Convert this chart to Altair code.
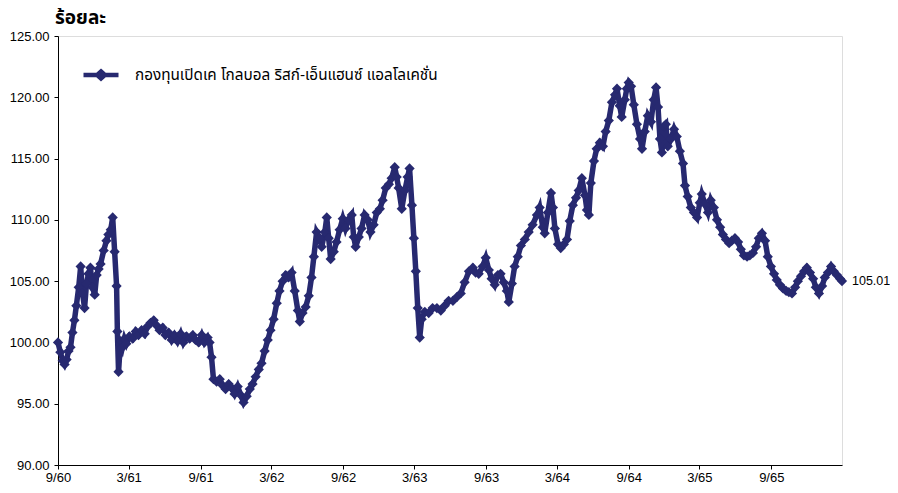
import altair as alt
import pandas as pd

SERIES_NAME = "กองทุนเปิดเค โกลบอล ริสก์-เอ็นแฮนซ์ แอลโลเคชั่น"
Y_TITLE = "ร้อยละ"

DATES = [
    "2017-09-01", "2017-09-07", "2017-09-13", "2017-09-18", "2017-09-23", "2017-09-28",
    "2017-10-03", "2017-10-08", "2017-10-13", "2017-10-18", "2017-10-24", "2017-10-29",
    "2017-11-03", "2017-11-08", "2017-11-13", "2017-11-18", "2017-11-23", "2017-11-28",
    "2017-12-04", "2017-12-09", "2017-12-14", "2017-12-19", "2017-12-27",
    "2018-01-03", "2018-01-08", "2018-01-14", "2018-01-19", "2018-01-24", "2018-01-29", "2018-01-31",
    "2018-02-03", "2018-02-08", "2018-02-13", "2018-02-18", "2018-02-23",
    "2018-03-03", "2018-03-11", "2018-03-19", "2018-03-26",
    "2018-04-03", "2018-04-11", "2018-04-18", "2018-04-26",
    "2018-05-04", "2018-05-11", "2018-05-19", "2018-05-27",
    "2018-06-03", "2018-06-11", "2018-06-19", "2018-06-26",
    "2018-07-04", "2018-07-12", "2018-07-19", "2018-07-27",
    "2018-08-04", "2018-08-12", "2018-08-19", "2018-08-27",
    "2018-09-04", "2018-09-11", "2018-09-19", "2018-09-24", "2018-09-29",
    "2018-10-04", "2018-10-12", "2018-10-20", "2018-10-27",
    "2018-11-04", "2018-11-12", "2018-11-19", "2018-11-27",
    "2018-12-05", "2018-12-13", "2018-12-20", "2018-12-28",
    "2019-01-05", "2019-01-12", "2019-01-20", "2019-01-28",
    "2019-02-04", "2019-02-12", "2019-02-20", "2019-02-27",
    "2019-03-07", "2019-03-15", "2019-03-22", "2019-03-30",
    "2019-04-07", "2019-04-14", "2019-04-22", "2019-04-30",
    "2019-05-08", "2019-05-13", "2019-05-20", "2019-05-28",
    "2019-06-05", "2019-06-12", "2019-06-18", "2019-06-25",
    "2019-07-03", "2019-07-08", "2019-07-16", "2019-07-21", "2019-07-26", "2019-07-31",
    "2019-08-08", "2019-08-15", "2019-08-23", "2019-08-31",
    "2019-09-07", "2019-09-15", "2019-09-23", "2019-09-28",
    "2019-10-03", "2019-10-11", "2019-10-18", "2019-10-26",
    "2019-11-03", "2019-11-10", "2019-11-18", "2019-11-26",
    "2019-12-04", "2019-12-11", "2019-12-19", "2019-12-27",
    "2020-01-03", "2020-01-11", "2020-01-16", "2020-01-21", "2020-01-29",
    "2020-02-06", "2020-02-13", "2020-02-18", "2020-02-24", "2020-02-29",
    "2020-03-05", "2020-03-10", "2020-03-15", "2020-03-20", "2020-03-28",
    "2020-04-07", "2020-04-17", "2020-04-28",
    "2020-05-08", "2020-05-18", "2020-05-28",
    "2020-06-08", "2020-06-18", "2020-06-28",
    "2020-07-08", "2020-07-19", "2020-07-29",
    "2020-08-05", "2020-08-13", "2020-08-23", "2020-08-31",
    "2020-09-08", "2020-09-15", "2020-09-23",
    "2020-10-01", "2020-10-08", "2020-10-16", "2020-10-24", "2020-10-29",
    "2020-11-06", "2020-11-13", "2020-11-21", "2020-11-29",
    "2020-12-09", "2020-12-19", "2020-12-29",
    "2021-01-09", "2021-01-16", "2021-01-24", "2021-01-29",
    "2021-02-06", "2021-02-14", "2021-02-19", "2021-02-24",
    "2021-03-04", "2021-03-11", "2021-03-19", "2021-03-27",
    "2021-04-03", "2021-04-11", "2021-04-19", "2021-04-26",
    "2021-05-04", "2021-05-12", "2021-05-17", "2021-05-22", "2021-05-27",
    "2021-06-04", "2021-06-11", "2021-06-19", "2021-06-27",
    "2021-07-04", "2021-07-12", "2021-07-20", "2021-07-28",
    "2021-08-02", "2021-08-09", "2021-08-14", "2021-08-22", "2021-08-27",
    "2021-09-01", "2021-09-07", "2021-09-14", "2021-09-22", "2021-09-30",
    "2021-10-05", "2021-10-12", "2021-10-20", "2021-10-28",
    "2021-11-04", "2021-11-10", "2021-11-15", "2021-11-20", "2021-11-25", "2021-11-30",
    "2021-12-05", "2021-12-10", "2021-12-18", "2021-12-26",
    "2022-01-02", "2022-01-10", "2022-01-18", "2022-01-23", "2022-01-30",
    "2022-02-07", "2022-02-15", "2022-02-23",
    "2022-03-02", "2022-03-07", "2022-03-15", "2022-03-23", "2022-03-30",
    "2022-04-07", "2022-04-15", "2022-04-23", "2022-04-30",
    "2022-05-08", "2022-05-16", "2022-05-23", "2022-05-31",
    "2022-06-08", "2022-06-15", "2022-06-23",
    "2022-07-01", "2022-07-08", "2022-07-16", "2022-07-24", "2022-07-31",
    "2022-08-08", "2022-08-16", "2022-08-23", "2022-08-31",
    "2022-09-08", "2022-09-15", "2022-09-23",
    "2022-10-01", "2022-10-09", "2022-10-16", "2022-10-24",
    "2022-11-01", "2022-11-08", "2022-11-16", "2022-11-24",
    "2022-12-01", "2022-12-09", "2022-12-17", "2022-12-24",
    "2023-01-01", "2023-01-09", "2023-01-16", "2023-01-24",
    "2023-02-01", "2023-02-08", "2023-02-16", "2023-02-24",
    "2023-03-01",
]

NAV = [
    100.0, 99.2, 98.5, 98.2, 98.6, 99.3,
    99.6, 100.8, 101.8, 103.0, 104.5, 106.2,
    104.0, 102.8, 104.8, 105.6, 106.1, 104.5,
    103.9, 105.5, 106.0, 106.4, 107.5,
    108.3, 108.8, 109.2, 110.2, 107.4, 104.6, 100.9,
    97.6, 100.1, 99.6, 100.3, 99.9,
    100.5, 100.3, 100.9, 100.6,
    101.0, 100.7, 101.3, 101.6,
    101.8, 101.4, 101.0, 101.2,
    100.6, 100.8, 100.2, 100.6,
    100.1, 100.7, 100.0, 100.5,
    100.3, 100.6, 100.2, 100.0,
    100.6, 100.0, 100.4, 100.0, 98.8,
    97.0, 96.8, 97.0, 96.5,
    96.2, 96.6, 96.3, 95.8,
    96.4, 95.7, 95.1, 95.6,
    96.2, 96.6, 97.2, 97.8,
    98.3, 99.3, 100.2, 101.0,
    101.9, 103.2, 104.2, 105.0,
    105.5, 105.3, 105.7, 104.2,
    102.6, 101.7, 102.4, 102.9,
    103.8, 105.3, 107.0, 109.0,
    108.5, 107.8, 109.0, 110.2, 108.5, 106.8,
    107.4, 108.2, 109.2, 110.1,
    109.3, 110.0, 110.4, 108.6,
    107.8, 108.6, 109.3, 110.4,
    110.0, 109.0, 109.6, 110.6,
    110.9, 111.6, 112.6, 112.9,
    113.4, 114.3, 113.5, 112.6, 110.9,
    112.4, 113.5, 114.2, 111.2, 108.5,
    105.8, 102.8, 100.4, 101.9, 102.5,
    102.4, 102.8, 102.8,
    102.6, 103.0, 103.4,
    103.4, 103.7, 104.0,
    104.9, 105.8, 106.1,
    105.7, 105.6, 106.2, 106.9,
    105.9, 105.2, 104.7,
    105.5, 105.6, 104.9, 104.2, 103.3,
    104.8, 106.2, 107.0, 107.9,
    108.4, 109.0, 109.6,
    110.4, 111.0, 109.4, 108.9,
    110.6, 112.2, 111.0, 109.3,
    108.0, 107.7, 108.0, 108.4,
    109.9, 111.2, 111.8, 112.4,
    113.4, 112.0, 110.8, 110.4, 113.0,
    114.8, 115.8, 116.3, 116.0,
    117.2, 118.1, 119.6, 120.2,
    120.7, 119.3, 118.4, 119.8, 120.7,
    121.2, 120.9, 119.4, 117.8, 116.6,
    115.8, 117.2, 118.5, 118.0,
    119.8, 120.8, 119.2, 116.6, 115.5, 117.6,
    117.8, 116.0, 116.6, 117.4,
    116.8, 115.6, 114.6, 112.8, 111.9,
    111.0, 110.6, 110.2,
    111.4, 112.1, 111.3, 110.6, 111.6,
    111.0, 110.0, 109.4, 108.8,
    108.4, 108.1, 108.3, 108.5,
    108.2, 107.6, 107.1,
    107.0, 107.1, 107.3, 107.8, 108.5,
    108.9, 108.3, 107.0, 106.2,
    105.6, 105.1, 104.7,
    104.4, 104.2, 104.1, 104.0,
    104.5, 105.0, 105.4, 105.8,
    106.1, 105.7, 105.2, 104.5,
    104.0, 104.6, 105.3, 105.7,
    106.2, 105.8, 105.5, 105.2,
    105.01,
]

Y_TICKS = [90, 95, 100, 105, 110, 115, 120, 125]
X_TICK_DATES = [
    "2017-09-01", "2018-03-01", "2018-09-01", "2019-03-01", "2019-09-01", "2020-03-01",
    "2020-09-01", "2021-03-01", "2021-09-01", "2022-03-01", "2022-09-01",
]
X_DOMAIN = ["2017-09-01", "2023-03-01"]

NAVY = "#272970"
FONT = "Liberation Sans, Arial, Noto Sans Thai, Tahoma, sans-serif"


def dt(s):
    y, m, d = (int(p) for p in s.split("-"))
    return alt.DateTime(year=y, month=m, date=d, utc=True)


df = pd.DataFrame({"date": DATES, "nav": NAV, "series": SERIES_NAME})
last = df.tail(1)

x_enc = alt.X(
    "date:T",
    scale=alt.Scale(type="utc", domain=[dt(X_DOMAIN[0]), dt(X_DOMAIN[1])]),
    axis=alt.Axis(
        values=[dt(s) for s in X_TICK_DATES],
        labelExpr="(utcmonth(datum.value) + 1) + '/' + ((utcyear(datum.value) + 543) % 100)",
        title=None,
        grid=False,
        tickSize=4,
        labelPadding=2,
        labelFontSize=13,
        labelColor="#000000",
        domainColor="#000000",
        tickColor="#000000",
        labelFont=FONT,
        labelOverlap=False,
        labelFlush=False,
    ),
)
y_enc = alt.Y(
    "nav:Q",
    scale=alt.Scale(domain=[90, 125], nice=False, zero=False),
    axis=alt.Axis(
        values=Y_TICKS,
        format=".2f",
        title=None,
        grid=False,
        tickSize=4,
        labelPadding=5,
        labelFontSize=13,
        labelColor="#000000",
        domainColor="#000000",
        tickColor="#000000",
        labelFont=FONT,
    ),
)

legend_symbol = "M-1,0L1,0M0,-0.2L0.22,0L0,0.2L-0.22,0Z"

color_enc = alt.Color(
    "series:N",
    scale=alt.Scale(range=[NAVY]),
    legend=alt.Legend(
        title=None,
        orient="none",
        legendX=23,
        legendY=19,
        padding=0,
        labelFont=FONT,
        labelFontSize=15.3,
        labelColor="#000000",
        labelOffset=14,
        labelLimit=700,
        symbolType=legend_symbol,
        symbolSize=1225,
        symbolStrokeWidth=4.5,
        symbolFillColor=NAVY,
        symbolStrokeColor=NAVY,
    ),
)

base = alt.Chart(df).encode(x=x_enc, y=y_enc)

line = base.mark_line(strokeWidth=5.5, color=NAVY).encode(color=color_enc)
points = base.mark_point(shape="diamond", size=105, filled=True, opacity=1, color=NAVY).encode(color=color_enc)

label = alt.Chart(last).mark_text(
    align="left", baseline="middle", dx=10, fontSize=12.5, font=FONT, color="#000000"
).encode(x=x_enc, y=y_enc, text=alt.Text("nav:Q", format=".2f"))

chart = (
    alt.layer(line, points, label)
    .properties(
        width=784,
        height=429,
        autosize=alt.AutoSizeParams(type="none"),
        padding={"left": 50, "top": 28, "right": 48, "bottom": 20},
        title=alt.TitleParams(
            Y_TITLE,
            anchor="start",
            frame="group",
            fontSize=19,
            fontWeight="bold",
            font=FONT,
            color="#000000",
            dx=-3,
            offset=2,
        ),
    )
    .configure_view(stroke="#A0A0A0", strokeWidth=1)
    .configure(background="white")
)

chart.save("out.html", embed_options={"renderer": "svg", "actions": False})
